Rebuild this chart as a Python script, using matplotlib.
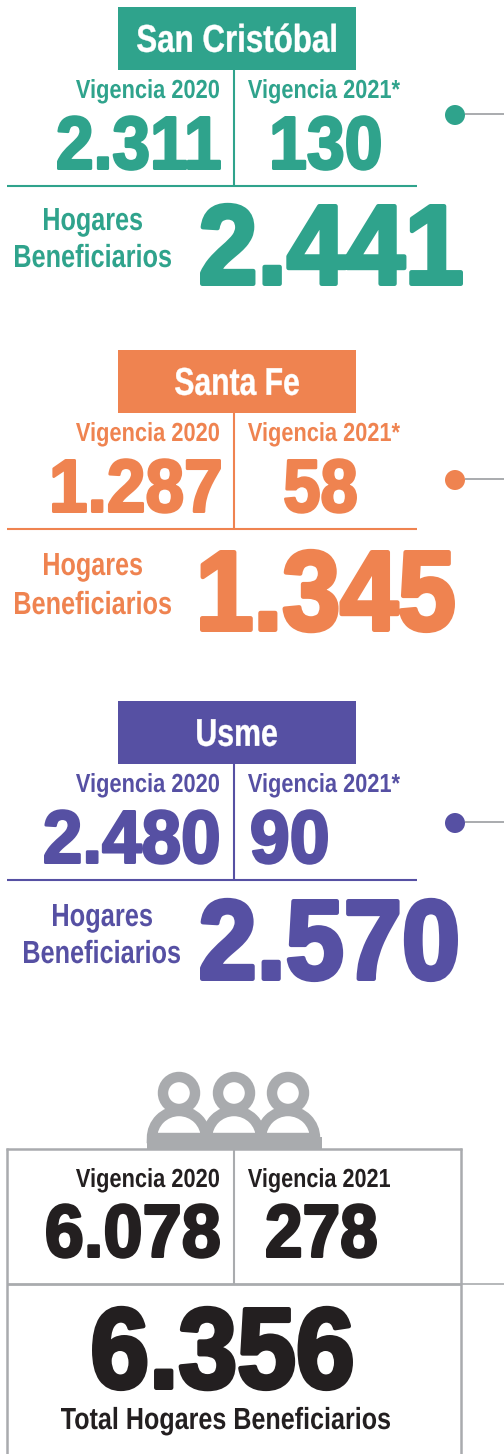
#!/usr/bin/env python
import matplotlib
matplotlib.use('Agg')
import matplotlib.pyplot as plt
import matplotlib.patheffects as pe
from matplotlib.font_manager import FontProperties
from matplotlib.patches import Rectangle, Circle, Wedge
from matplotlib.textpath import TextPath
from matplotlib.transforms import Affine2D

localidades = ['San Cristóbal', 'Santa Fe', 'Usme']
vigencia_2020 = ['2.311', '1.287', '2.480']
vigencia_2021 = ['130', '58', '90']
hogares = ['2.441', '1.345', '2.570']
total_2020 = '6.078'
total_2021 = '278'
total_hogares = '6.356'

label_2020 = 'Vigencia 2020'
label_2021 = 'Vigencia 2021'
label_hogares = ['Hogares', 'Beneficiarios']
label_total = 'Total Hogares Beneficiarios'

# layout of each block, pixels from the top left corner
colors = ['#2FA38C', '#EF8350', '#5650A3']
tops = [7, 350, 701]
title_x = [(137, 336), (175, 299), (197, 277)]
n20_x = [(57, 221), (52, 221), (44, 219)]
n21_x = [(272, 381), (284, 357), (251, 328)]
big_x = [(200, 463), (200, 455), (200, 458)]
big_base = [286, 632, 981]
hog_x = [(44, 142), (44, 142), (53, 152)]
ben_x = [(15, 171), (15, 171), (24, 180)]
hog_base = [(230, 267), (575, 614), (926, 963)]
dot_y = [115, 480, 823]

BLACK = '#231F20'
GRAY = '#A9ABAE'
FONT = FontProperties(family='Liberation Sans', weight='bold')

fig = plt.figure(figsize=(5.04, 14.54), dpi=100)
ax = fig.add_axes([0, 0, 1, 1])
ax.set_xlim(0, 504)
ax.set_ylim(1454, 0)
ax.axis('off')


class Tall(pe.AbstractPathEffect):
    # the source font is condensed, so draw the glyphs taller about the baseline
    def __init__(self, y0, sy, lw):
        super().__init__()
        self.y0, self.sy, self.lw = y0, sy, lw

    def draw_path(self, renderer, gc, tpath, affine, rgbFace=None):
        aff = affine + Affine2D().translate(0, -self.y0).scale(1, self.sy).translate(0, self.y0)
        gc0 = renderer.new_gc()
        gc0.copy_properties(gc)
        gc0.set_linewidth(self.lw)
        gc0.set_foreground(rgbFace)
        renderer.draw_path(gc0, tpath, aff, rgbFace)
        gc0.restore()


def fit(s, xs, base, h, color, lw=0.0):
    # size the text so its ink runs from xs[0] to xs[1] with cap height h
    pad = lw * 100 / 72
    ink = TextPath((0, 0), s, size=100, prop=FONT).get_extents()
    cap = TextPath((0, 0), 'H', size=100, prop=FONT).get_extents().height
    px = 100 * (xs[1] - xs[0] - pad) / ink.width
    x = xs[0] + pad / 2 - ink.x0 * px / 100
    y = base - pad / 2
    t = ax.text(x, y, s, fontsize=px * 0.72, color=color, ha='left', va='baseline',
                family='Liberation Sans', fontweight='bold')
    y0 = ax.transData.transform((0, y))[1]
    t.set_path_effects([Tall(y0, (h - pad) / (cap * px / 100), lw)])


def line(xs, ys, color, lw):
    ax.plot(xs, ys, color=color, lw=lw, solid_capstyle='butt')


for i, name in enumerate(localidades):
    c = colors[i]
    top = tops[i]
    ax.add_patch(Rectangle((118, top), 238, 63, color=c, lw=0))
    fit(name, title_x[i], top + 45, 27, 'white', 0.3)
    line([234, 234], [top + 63, top + 179], c, 1.5)
    line([7, 417], [top + 179, top + 179], c, 1.5)
    fit(label_2020, (76, 219), top + 91, 18, c)
    fit(label_2021 + '*', (248, 400), top + 91, 18, c)
    fit(vigencia_2020[i], n20_x[i], top + 163, 54, c, 1.9)
    fit(vigencia_2021[i], n21_x[i], top + 163, 54, c, 1.9)
    fit(hogares[i], big_x[i], big_base[i], 82, c, 3.2)
    fit(label_hogares[0], hog_x[i], hog_base[i][0], 22, c)
    fit(label_hogares[1], ben_x[i], hog_base[i][1], 22, c)
    line([465, 504], [dot_y[i] - 1, dot_y[i] - 1], GRAY, 1.4)
    ax.add_patch(Circle((455, dot_y[i]), 10, color=c, lw=0))

# people icon
for cx in [179, 234, 288]:
    ax.add_patch(Circle((cx, 1093), 16, fc='white', ec=GRAY, lw=7.5))
for cx in [179, 234, 288]:
    ax.add_patch(Wedge((cx, 1138), 27, 180, 360, fc='white', ec=GRAY, lw=7.5))
ax.add_patch(Rectangle((147, 1137), 175, 12, color=GRAY, lw=0))

# total box
line([7, 7], [1148, 1454], GRAY, 1.8)
line([461, 461], [1148, 1454], GRAY, 1.8)
line([6, 462], [1149, 1149], GRAY, 1.8)
line([234, 234], [1149, 1284], GRAY, 1.5)
line([7, 461], [1284, 1284], GRAY, 2.0)
line([461, 504], [1284, 1284], GRAY, 1.2)

fit(label_2020, (76, 219), 1187, 18, BLACK)
fit(label_2021, (248, 390), 1187, 18, BLACK)
fit(total_2020, (46, 220), 1258, 54, BLACK, 1.9)
fit(total_2021, (266, 377), 1258, 54, BLACK, 1.9)
fit(total_hogares, (92, 353), 1390, 83, BLACK, 3.2)
fit(label_total, (61, 390), 1429, 21, BLACK)

fig.savefig('out.png', dpi=100)
